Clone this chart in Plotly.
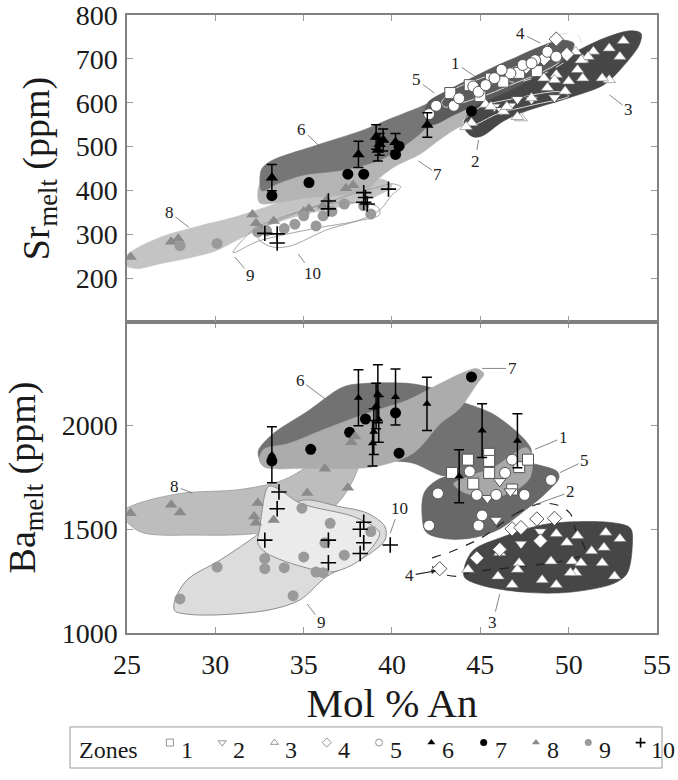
import plotly.graph_objects as go

# ---------------- data: Sr (top panel) ----------------
SR_X = {
    1: [43.3, 44.4, 45.6, 46.3, 47.2, 48.2, 45.0],
    2: [45.8, 46.2, 46.7, 47.1, 47.9, 49.2],
    3: [53.1, 52.3, 52.9, 51.4, 50.8, 50.8, 52.3, 50.0, 49.3, 48.8, 47.9, 47.3, 46.3, 45.3,
        44.5, 49.8, 51.9, 51.1, 50.4, 50.7, 49.2, 48.6, 47.1, 46.5, 45.6, 44.2, 50.5],
    4: [49.3, 49.9, 48.6, 47.6],
    5: [42.1, 42.5, 43.5, 44.6, 44.9, 45.8, 46.7, 47.4, 48.1, 48.8, 46.2, 45.3, 47.9, 49.3, 43.8],
    6: [33.2, 38.1, 39.1, 39.3, 39.2, 39.5, 40.2, 42.0],
    7: [33.2, 35.3, 37.5, 38.4, 40.2, 40.4, 44.5],
    8: [25.2, 27.5, 27.9, 32.1, 32.3, 32.6, 33.3, 35.0, 35.3, 36.3, 37.4, 37.8, 36.1],
    9: [28.0, 30.1, 32.9, 33.9, 34.5, 35.0, 35.7, 36.1, 37.3, 38.8, 38.4, 32.4, 36.6],
    10: [32.8, 33.5, 33.5, 36.4, 36.4, 38.4, 38.5, 38.4, 38.6, 39.8],
}
SR_Y = {
    1: [622, 640, 655, 648, 668, 672, 615],
    2: [591, 583, 593, 608, 608, 612],
    3: [741, 724, 705, 717, 698, 656, 652, 649, 664, 634, 611, 565, 580, 596,
        554, 626, 656, 705, 716, 697, 652, 656, 568, 591, 591, 545, 675],
    4: [745, 710, 700, 682],
    5: [574, 593, 593, 637, 625, 656, 667, 686, 697, 716, 675, 640, 690, 705, 610],
    6: [429, 482, 522, 505, 492, 515, 510, 549],
    7: [388, 418, 437, 437, 482, 501, 581],
    8: [248, 283, 290, 345, 325, 312, 330, 352, 358, 378, 405, 412, 365],
    9: [274, 279, 308, 313, 323, 342, 319, 342, 369, 346, 365, 305, 352],
    10: [302, 301, 280, 376, 358, 395, 384, 373, 369, 403],
}
SR_ERR6 = [30, 30, 28, 25, 25, 25, 20, 28]

# ---------------- data: Ba (bottom panel) ----------------
BA_X = {
    1: [45.5, 45.5, 45.5, 44.3, 47.2, 47.7, 46.8, 43.4, 44.6],
    2: [46.1, 45.4, 45.9, 47.3, 46.7, 48.4],
    3: [49.3, 50.5, 52.1, 52.9, 52.0, 51.9, 52.6, 50.4, 49.3, 48.5, 46.8, 46.0, 47.2, 49.0,
        50.2, 50.7, 49.9, 50.1, 44.3, 46.1, 51.3, 47.1],
    4: [42.7, 44.8, 46.1, 46.8, 47.3, 48.2, 48.4, 49.2],
    5: [42.6, 42.1, 44.9, 45.1, 49.0, 47.5, 45.9, 44.8, 46.8, 44.4, 46.4],
    6: [33.2, 38.1, 39.2, 40.2, 41.98, 39.1, 39.25, 38.97, 38.9, 45.1, 47.1, 43.8],
    7: [33.2, 35.4, 37.6, 38.5, 40.2, 40.4, 44.5],
    8: [25.2, 27.5, 28.0, 32.2, 32.3, 33.3, 35.2, 36.2, 37.5, 37.9, 32.4, 37.7],
    9: [28.0, 30.1, 32.8, 32.8, 33.9, 34.9, 35.0, 35.7, 36.1, 36.5, 36.2, 37.3, 34.4, 38.8],
    10: [33.6, 33.5, 32.8, 38.4, 38.2, 38.4, 39.9, 38.2, 36.4, 36.4],
}
BA_Y = {
    1: [1864, 1830, 1772, 1836, 1800, 1836, 1692, 1772, 1720],
    2: [1731, 1650, 1545, 1430, 1682, 1490],
    3: [1478, 1469, 1485, 1454, 1412, 1338, 1273, 1290, 1232, 1256, 1232, 1273, 1338, 1346,
        1346, 1338, 1436, 1290, 1306, 1387, 1395, 1306],
    4: [1310, 1362, 1403, 1502, 1508, 1550, 1444, 1553],
    5: [1673, 1518, 1518, 1567, 1738, 1666, 1666, 1666, 1836, 1779, 1772],
    6: [1860, 2135, 2154, 2138, 2105, 2095, 2030, 1971, 1915, 1976, 1927, 1756],
    7: [1830, 1886, 1968, 2032, 2062, 1867, 2235],
    8: [1578, 1619, 1581, 1562, 1532, 1545, 1675, 1792, 1700, 1948, 1627, 1920],
    9: [1164, 1318, 1359, 1310, 1315, 1602, 1367, 1294, 1291, 1529, 1435, 1375, 1180, 1489],
    10: [1680, 1599, 1448, 1534, 1500, 1435, 1424, 1383, 1339, 1448],
}
BA_ERR6 = [135, 135, 140, 135, 128, 110, 110, 110, 110, 130, 130, 128]

# ---------------- zone outlines (An, ppm) ----------------
SR_ZONE8 = ([29.0, 31.0, 32.7, 34.5, 36.5, 38.0, 39.5, 40.0, 39.0, 37.0, 35.0, 33.0, 31.5, 30.0, 28.5, 27.0, 25.5, 24.6, 25.3, 27.0],
            [318, 338, 360, 385, 405, 420, 425, 410, 385, 362, 345, 320, 292, 262, 246, 234, 222, 235, 262, 295])
SR_ZONE9 = ([34.0, 36.0, 38.0, 39.3, 39.2, 38.0, 36.5, 35.0, 33.5, 32.2, 31.0, 32.4],
            [300, 316, 330, 345, 362, 372, 370, 355, 335, 312, 258, 284])
SR_ZONE10 = ([36.3, 38.2, 39.3, 40.0, 40.5, 40.0, 39.0, 38.0, 36.5, 35.0, 33.5, 32.5, 32.3, 32.7, 33.4, 34.3],
             [310, 333, 355, 390, 408, 415, 405, 395, 375, 355, 330, 312, 300, 280, 270, 274])
SR_ZONE7 = ([36.0, 39.0, 41.0, 42.5, 43.5, 44.3, 44.8, 44.3, 43.6, 42.5, 41.6, 40.1, 39.1, 38.7, 37.5, 35.0, 33.5, 32.5, 32.6],
            [450, 490, 520, 560, 580, 592, 580, 555, 540, 510, 483, 453, 422, 405, 392, 382, 372, 372, 420])
SR_ZONE6 = ([35.8, 38.4, 40.0, 41.4, 42.2, 42.8, 42.5, 41.6, 39.5, 37.3, 35.0, 33.5, 32.8, 32.6, 32.6, 33.1],
            [504, 538, 565, 587, 599, 590, 570, 530, 473, 447, 435, 415, 400, 400, 447, 466])
SR_ZONE3 = ([47.6, 50.0, 52.0, 53.5, 54.1, 54.0, 53.0, 52.0, 50.0, 47.6, 46.3, 45.1, 44.6, 44.2, 44.1, 45.1],
            [668, 709, 747, 764, 758, 732, 679, 641, 611, 581, 558, 524, 522, 535, 558, 611])
SR_ZONE5 = ([45.8, 47.1, 48.4, 49.6, 50.3, 50.1, 49.2, 48.1, 46.7, 45.4, 44.3, 43.3, 42.6, 42.1, 41.9, 42.0, 43.0, 44.3],
            [682, 705, 728, 743, 735, 713, 682, 659, 629, 606, 587, 568, 553, 549, 561, 599, 625, 652])
SR_ZONE1 = ([46.5, 48.0, 49.0, 49.5, 48.5, 47.0, 45.5, 44.0, 43.0, 42.8, 43.5, 45.0],
            [675, 695, 705, 695, 670, 645, 620, 600, 590, 600, 630, 655])
SR_ZONE4 = ([48.5, 49.5, 50.5, 50.7, 50.0, 48.8, 47.5, 46.7, 46.5, 47.5],
            [720, 755, 755, 735, 700, 670, 650, 648, 660, 690])
SR_ZONE2 = ([47.0, 49.5, 50.0, 48.0, 46.0, 44.5, 44.0, 45.0],
            [610, 625, 615, 595, 575, 548, 555, 590])

BA_ZONE8 = ([28.2, 31.4, 33.9, 35.7, 36.9, 37.6, 38.3, 38.4, 37.9, 37.1, 35.7, 32.4, 29.0, 25.7, 24.7, 25.0, 26.0],
            [1675, 1692, 1740, 1838, 1968, 1992, 1976, 1903, 1756, 1643, 1545, 1481, 1472, 1489, 1575, 1602, 1635])
BA_ZONE9 = ([30.3, 32.5, 34.4, 35.2, 37.0, 38.6, 39.6, 39.6, 38.2, 36.3, 34.8, 33.1, 30.3, 28.5, 27.7, 27.7, 28.4],
            [1353, 1482, 1626, 1642, 1610, 1578, 1513, 1448, 1353, 1272, 1160, 1112, 1088, 1090, 1107, 1156, 1256])
BA_ZONE10 = ([34.8, 37.8, 39.2, 39.3, 38.2, 36.7, 35.2, 32.9, 32.4, 32.5, 33.0, 33.5],
             [1626, 1562, 1497, 1473, 1353, 1296, 1313, 1385, 1433, 1497, 1706, 1698])
BA_ZONE6 = ([35.2, 36.9, 37.6, 40.9, 42.5, 44.0, 45.7, 47.4, 47.9, 47.6, 46.0, 44.0, 42.8, 41.2, 40.0, 37.0, 34.0, 32.8, 32.45, 32.45, 33.3],
            [2068, 2172, 2196, 2204, 2175, 2114, 2057, 1943, 1878, 1800, 1765, 1755, 1760, 1819, 1830, 1840, 1810, 1800, 1850, 1883, 1963])
BA_ZONE7 = ([36.1, 38.6, 40.9, 42.75, 44.0, 44.8, 45.2, 44.8, 43.8, 42.75, 41.2, 39.0, 35.2, 32.8, 32.5, 32.7, 34.2],
            [1980, 2060, 2124, 2204, 2255, 2275, 2250, 2200, 2080, 2011, 1867, 1802, 1794, 1800, 1830, 1883, 1915])
BA_ZONE5 = ([44.5, 46.0, 47.6, 48.2, 49.35, 49.45, 48.6, 47.4, 46.1, 44.7, 43.2, 41.95, 41.7, 41.85, 42.8],
            [1760, 1770, 1820, 1812, 1779, 1747, 1666, 1583, 1502, 1461, 1453, 1485, 1567, 1681, 1748])
BA_ZONE1 = ([45.1, 46.65, 47.8, 47.9, 47.6, 46.8, 45.8, 44.5, 43.5, 44.0],
            [1656, 1673, 1747, 1861, 1894, 1860, 1800, 1760, 1720, 1681])
BA_ZONE3 = ([48.8, 52.5, 53.5, 53.6, 53.3, 52.5, 50.0, 47.6, 45.1, 44.1, 44.1, 44.6, 46.3],
            [1526, 1532, 1505, 1416, 1286, 1237, 1196, 1196, 1229, 1269, 1318, 1399, 1464])
BA_ZONE4 = ([45.1, 47.0, 48.4, 49.4, 50.1, 50.4, 50.9, 44.3, 43.8, 42.5, 42.2, 43.2],
            [1461, 1575, 1624, 1616, 1575, 1494, 1387, 1290, 1273, 1297, 1354, 1387])

# zone labels: (text, label position, leader end)
SR_LABELS = [("1", 43.6, 690, 44.7, 660), ("5", 41.4, 652, 42.4, 622), ("4", 47.3, 758, 48.4, 736),
             ("3", 53.4, 584, 52.3, 618), ("2", 44.7, 467, 44.9, 515), ("6", 34.9, 539, 36.0, 497),
             ("7", 42.6, 437, 41.5, 467), ("8", 27.4, 350, 28.5, 316), ("9", 32.0, 206, 31.1, 248),
             ("10", 35.5, 210, 34.7, 255)]
BA_LABELS = [("1", 49.7, 1943, 48.1, 1886), ("5", 50.9, 1830, 49.5, 1773), ("2", 50.1, 1680, 48.0, 1616),
             ("3", 45.7, 1050, 46.1, 1188), ("6", 34.8, 2219, 36.2, 2130), ("7", 46.8, 2276, 45.1, 2276),
             ("8", 27.7, 1708, 28.7, 1675), ("9", 36.0, 1050, 35.2, 1140), ("10", 40.4, 1602, 39.9, 1481)]
BA_ARROW_LABEL = ("4", 41.0, 1277, 42.5, 1300)

ZONES = list(range(1, 11))
X_TICKS = [25, 30, 35, 40, 45, 50, 55]
SR_TICKS = [200, 300, 400, 500, 600, 700, 800]
BA_TICKS = [1000, 1500, 2000]

FONT = "Liberation Serif"
INK = "#1a1a1a"

STYLE = {
    1: dict(symbol="square", color="white", line=dict(color="#555", width=1)),
    2: dict(symbol="triangle-down", color="white", line=dict(color="#555", width=1)),
    3: dict(symbol="triangle-up", color="white", line=dict(color="#777", width=0.6)),
    4: dict(symbol="diamond", color="white", line=dict(color="#555", width=1)),
    5: dict(symbol="circle", color="white", line=dict(color="#555", width=1)),
    6: dict(symbol="triangle-up", color="black", line=dict(color="black", width=0)),
    7: dict(symbol="circle", color="black", line=dict(color="black", width=0)),
    8: dict(symbol="triangle-up", color="#8a8a8a", line=dict(color="#8a8a8a", width=0)),
    9: dict(symbol="circle", color="#9a9a9a", line=dict(color="#9a9a9a", width=0)),
    10: dict(symbol="cross-thin", color="black", line=dict(color="black", width=1.6)),
}

fig = go.Figure()


def zone_shape(poly, xa, ya, fill, line_color=None, width=0.6, dash=None):
    xs = list(poly[0]) + [poly[0][0]]
    ys = list(poly[1]) + [poly[1][0]]
    fig.add_trace(go.Scatter(
        x=xs, y=ys, xaxis=xa, yaxis=ya, mode="lines",
        fill="toself" if fill else None, fillcolor=fill,
        line=dict(color=line_color or fill or "#888", width=width, shape="spline", smoothing=0.9, dash=dash),
        hoverinfo="skip", showlegend=False))


# top panel zones
zone_shape(SR_ZONE8, "x2", "y2", "#c4c4c4")
zone_shape(SR_ZONE9, "x2", "y2", None, "#9a9a9a", 0.9)
zone_shape(SR_ZONE10, "x2", "y2", None, "#9a9a9a", 0.9)
zone_shape(SR_ZONE7, "x2", "y2", "#b4b4b4")
zone_shape(SR_ZONE6, "x2", "y2", "#767676")
zone_shape(SR_ZONE3, "x2", "y2", "#474747")
zone_shape(SR_ZONE5, "x2", "y2", "#5c5c5c")
zone_shape(SR_ZONE2, "x2", "y2", None, "#dddddd", 1)
zone_shape(SR_ZONE1, "x2", "y2", None, "#dddddd", 1)
zone_shape(SR_ZONE4, "x2", "y2", None, "#dddddd", 1, "dash")

# bottom panel zones
zone_shape(BA_ZONE8, "x", "y", "#bdbdbd", "#999", 0.8)
zone_shape(BA_ZONE9, "x", "y", "#dcdcdc", "#8c8c8c", 1)
zone_shape(BA_ZONE10, "x", "y", "#ebebeb", "#8c8c8c", 1)
zone_shape(BA_ZONE6, "x", "y", "#727272")
zone_shape(BA_ZONE7, "x", "y", "#acacac")
zone_shape(BA_ZONE5, "x", "y", "#686868")
zone_shape(BA_ZONE1, "x", "y", "#a8a8a8")
zone_shape(BA_ZONE3, "x", "y", "#464646")
zone_shape(BA_ZONE4, "x", "y", None, "#222", 1.2, "dash")


def marker_for(z, size=11):
    s = STYLE[z]
    return dict(symbol=s["symbol"], color=s["color"], size=size, line=s["line"])


for z in ZONES:
    err = dict(type="data", array=SR_ERR6, color="black", thickness=1.5, width=5) if z == 6 else None
    fig.add_trace(go.Scatter(
        x=SR_X[z], y=SR_Y[z], xaxis="x2", yaxis="y2", mode="markers",
        marker=marker_for(z), error_y=err, name=str(z), showlegend=False))
for z in ZONES:
    err = dict(type="data", array=BA_ERR6, color="black", thickness=1.5, width=5) if z == 6 else None
    fig.add_trace(go.Scatter(
        x=BA_X[z], y=BA_Y[z], xaxis="x", yaxis="y", mode="markers",
        marker=marker_for(z, 8 if z == 6 else 11), error_y=err, name=str(z), showlegend=False))

# key along the bottom: one small symbol per zone, placed on a hidden axis
# whose unit is one key slot
KEY_FIRST = 1.91
key_x = [KEY_FIRST + (z - 1) for z in ZONES]
for z, kx in zip(ZONES, key_x):
    s = STYLE[z]
    line = dict(color="#777", width=0.8) if s["color"] == "white" else s["line"]
    fig.add_trace(go.Scatter(
        x=[kx], y=[0.62], xaxis="x3", yaxis="y3", mode="markers",
        marker=dict(symbol=s["symbol"], color=s["color"], size=7, line=line),
        hoverinfo="skip", showlegend=False))

annotations = []
for txt, tx, ty, px, py in SR_LABELS:
    annotations.append(dict(x=px, y=py, ax=tx, ay=ty, xref="x2", yref="y2", axref="x2", ayref="y2",
                            text=txt, showarrow=True, arrowhead=0, arrowwidth=0.8, arrowcolor="#666",
                            font=dict(family=FONT, size=17, color="#222")))
for txt, tx, ty, px, py in BA_LABELS:
    annotations.append(dict(x=px, y=py, ax=tx, ay=ty, xref="x", yref="y", axref="x", ayref="y",
                            text=txt, showarrow=True, arrowhead=0, arrowwidth=0.8, arrowcolor="#666",
                            font=dict(family=FONT, size=17, color="#222")))
txt, tx, ty, px, py = BA_ARROW_LABEL
annotations.append(dict(x=px, y=py, ax=tx, ay=ty, xref="x", yref="y", axref="x", ayref="y",
                        text=txt, showarrow=True, arrowhead=2, arrowsize=0.8, arrowwidth=1.2, arrowcolor="#222",
                        font=dict(family=FONT, size=17, color="#222")))

keyfont = dict(family=FONT, size=24, color=INK)
annotations.append(dict(x=0.73, y=0.45, xref="x3", yref="y3", text="Zones", showarrow=False,
                        font=keyfont, xanchor="center", yanchor="middle"))
for z, kx in zip(ZONES, key_x):
    annotations.append(dict(x=kx + 0.17, y=0.45, xref="x3", yref="y3", text=str(z), showarrow=False,
                            font=keyfont, xanchor="left", yanchor="middle"))

frame = dict(showline=True, linecolor="#808080", linewidth=1.5, mirror="ticks", ticks="inside",
             ticklen=6, tickcolor="#9a9a9a", tickwidth=1, showgrid=False, zeroline=False,
             automargin=False, ticklabeloverflow="allow")
tickfont = dict(family=FONT, size=28, color=INK)
titlefont = dict(family=FONT, size=38, color=INK)

fig.update_layout(
    width=678, height=780,
    margin=dict(l=60, r=12, t=15, b=10),
    paper_bgcolor="white", plot_bgcolor="white",
    font=dict(family=FONT, color=INK),
    xaxis=dict(domain=[0.1106, 0.9851], anchor="y", range=[25, 55], tickvals=X_TICKS,
               tickfont=tickfont, ticklabelstandoff=6,
               title=dict(text="Mol % An", font=dict(family=FONT, size=41, color=INK), standoff=8), **frame),
    xaxis2=dict(domain=[0.1106, 0.9851], anchor="y2", matches="x", range=[25, 55], tickvals=X_TICKS,
                showticklabels=False, **frame),
    yaxis=dict(domain=[0.1815, 0.5934], anchor="x", range=[1000, 2500], tickvals=BA_TICKS,
               tickfont=tickfont, ticklabelstandoff=2,
               title=dict(text="Ba<sub>melt</sub> (ppm)", font=titlefont, standoff=14), **frame),
    yaxis2=dict(domain=[0.5934, 1.0], anchor="x2", range=[100, 800], tickvals=SR_TICKS,
                tickfont=tickfont, ticklabelstandoff=2,
                title=dict(text="Sr<sub>melt</sub> (ppm)", font=titlefont, standoff=14), **frame),
    xaxis3=dict(domain=[0.0165, 0.9934], anchor="y3", range=[0, 11.32], visible=False, fixedrange=True),
    yaxis3=dict(domain=[0.0026, 0.057], anchor="x3", range=[0, 1], visible=False, fixedrange=True),
    shapes=[dict(type="rect", xref="x3 domain", yref="y3 domain", x0=0, x1=1, y0=0, y1=1,
                 line=dict(color="#9a9a9a", width=1), fillcolor="rgba(0,0,0,0)", layer="below")],
    annotations=annotations,
    showlegend=False,
)

fig.write_html("out.html")
